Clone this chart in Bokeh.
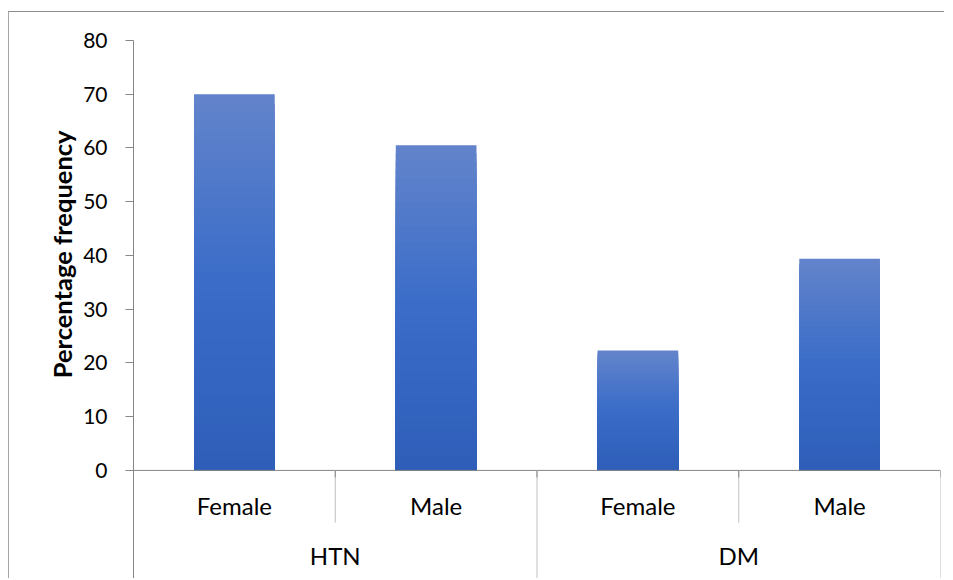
import math
from bokeh.plotting import figure
from bokeh.models import Range1d, FixedTicker, Title, ColumnDataSource
from bokeh.core.properties import value
from bokeh.embed import file_html
from bokeh.resources import INLINE

groups = ["HTN", "DM"]
sexes = ["Female", "Male"]
values = [70.0, 60.5, 22.3, 39.4]
y_ticks = [0, 10, 20, 30, 40, 50, 60, 70, 80]

FONT = "Lato"

# gradient stops (top -> bottom)
stops = [(0.0, (0x63, 0x84, 0xCB)), (0.5, (0x3A, 0x6C, 0xC8)), (1.0, (0x2E, 0x5E, 0xB8))]

def grad(t):
    for (t0, c0), (t1, c1) in zip(stops[:-1], stops[1:]):
        if t <= t1:
            f = (t - t0) / (t1 - t0)
            r, g, b = (round(c0[i] + (c1[i] - c0[i]) * f) for i in range(3))
            return "#%02x%02x%02x" % (r, g, b)
    c = stops[-1][1]
    return "#%02x%02x%02x" % c

Y0 = -20.3
p = figure(width=936, height=567, x_range=Range1d(0, 4), y_range=Range1d(Y0, 80),
           x_axis_type=None, output_backend="svg", toolbar_location=None,
           min_border_left=124, min_border_right=5, min_border_top=28, min_border_bottom=0)
p.styles = {"border-left": "1px solid #a6a6a6", "border-top": "1px solid #8c8c8c",
            "position": "relative", "left": "8px", "top": "11px"}
p.outline_line_color = None
p.grid.visible = False

# bars with vertical gradient, drawn as nested bands
N = 40
xs, tops, cols = [], [], []
for i, v in enumerate(values):
    for j in range(N, 0, -1):
        xs.append(i + 0.5)
        tops.append(v * j / N)
        cols.append(grad(1 - (j - 0.5) / N))
src = ColumnDataSource(dict(x=xs, top=tops, color=cols))
p.vbar(x="x", top="top", bottom=0, width=0.4, fill_color="color", line_color=None, source=src)

# y axis
ax = p.yaxis[0]
ax.ticker = FixedTicker(ticks=y_ticks)
ax.minor_tick_line_color = None
ax.major_tick_in = 0
ax.major_tick_out = 8
ax.axis_line_color = "#868686"
ax.major_tick_line_color = "#868686"
ax.major_label_text_font = FONT
ax.major_label_text_font_size = "21px"
ax.major_label_text_color = "#000000"
ax.major_label_standoff = 18

# x axis line and category separators
n = len(values)
p.segment(x0=[0], y0=[0], x1=[n], y1=[0], line_color="#868686", line_width=1)
sep_x = [k for k in range(1, n + 1)]
sep_bottom = [-9.7 if k % 2 == 1 else Y0 for k in sep_x]
p.segment(x0=sep_x, y0=[0] * len(sep_x), x1=sep_x, y1=sep_bottom, line_color="#bfbfbf", line_width=1)
p.segment(x0=list(range(0, n + 1)), y0=[0] * (n + 1), x1=list(range(0, n + 1)), y1=[-1.3] * (n + 1),
          line_color="#868686", line_width=1)

# category labels
sub_labels = [s for g in groups for s in sexes]
p.text(x=[i + 0.5 for i in range(n)], y=[-6.5] * n, text=sub_labels,
       text_font=value(FONT), text_font_size="24px", text_color="#000000",
       text_align="center", text_baseline="middle")
p.text(x=[gi * len(sexes) + len(sexes) / 2 for gi in range(len(groups))], y=[-15.8] * len(groups),
       text=groups, text_font=value(FONT), text_font_size="24px", text_color="#000000",
       text_align="center", text_baseline="middle")

# y axis title
p.add_layout(Title(text="Percentage frequency", align="right", offset=90,
                   text_font=FONT, text_font_style="bold", text_font_size="25.5px",
                   text_color="#000000", standoff=7), "left")

open("out.html", "w").write(file_html(p, INLINE))
